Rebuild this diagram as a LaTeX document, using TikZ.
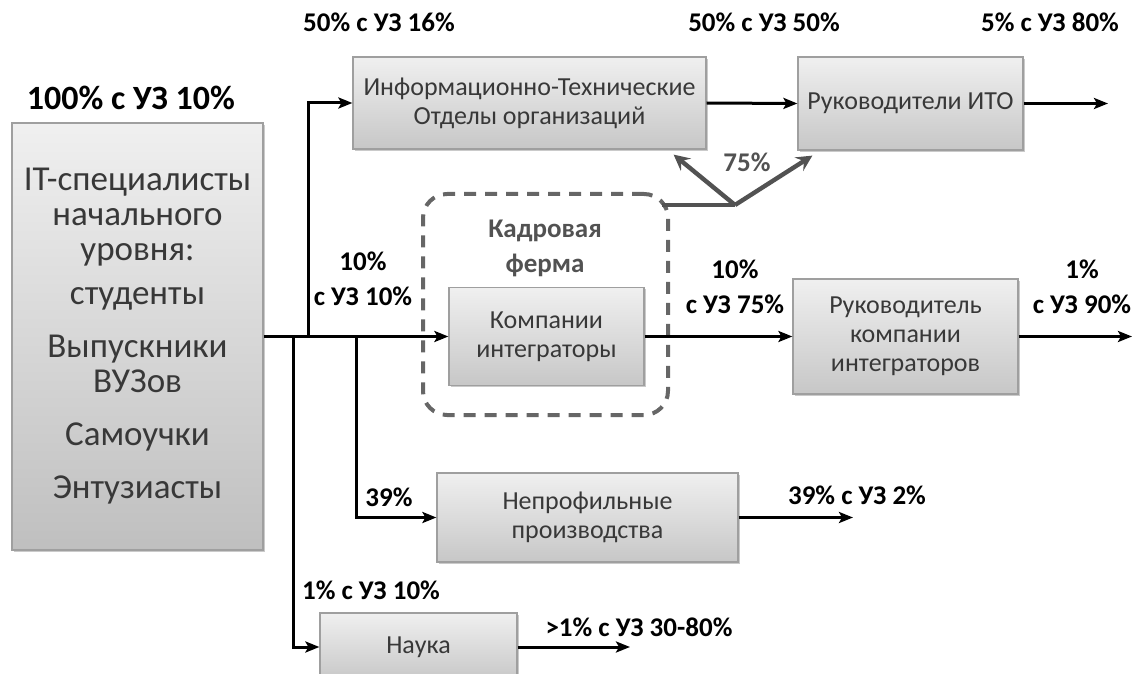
\documentclass[tikz,border=0pt]{standalone}
\usepackage{fontspec}
\setmainfont{Carlito}
\usetikzlibrary{arrows.meta, positioning, calc, shadows}

\begin{document}
\begin{tikzpicture}[
    x=0.5pt, y=-0.5pt,
    box/.style={rectangle, draw=gray!75, line width=0.6pt, top color=gray!12, bottom color=gray!44,
        text=black!78, align=center, font=\fontsize{13}{14.5}\selectfont,
        drop shadow={shadow xshift=0.9pt, shadow yshift=-0.9pt, fill=gray!70, opacity=0.6}},
    lbl/.style={font=\fontsize{13.5}{17.5}\selectfont\bfseries, align=center, inner sep=0pt},
    graylbl/.style={lbl, text=black!68},
    farm/.style={draw=black!60, line width=2pt, dash pattern=on 6pt off 4.5pt, rounded corners=12pt,
        minimum width=122.5pt, minimum height=110.5pt},
    arrow/.style={line width=1.5pt, -{Stealth[length=7pt, width=5.5pt, inset=1.5pt]}},
    grayline/.style={line width=2.2pt, draw=black!68},
    grayarrow/.style={grayline, -{Stealth[length=8pt, width=8pt, inset=3pt]}}
]
    \useasboundingbox (0,0) rectangle (1136,674);
    \clip (0,0) rectangle (1136,674);

    % Dashed frame
    \node[farm] (ferma) at (545.5,304.5) {};
    \node[graylbl] (fermalbl) at (545,248) {Кадровая\\ферма};

    % Boxes
    \node[box, minimum width=125.5pt, minimum height=213.5pt, bottom color=gray!50,
          font=\fontsize{17.5}{17.5}\selectfont] (src) at (137.5,336.5)
        {IT-специалисты\\начального\\уровня:\\[4.5pt]студенты\\[9pt]Выпускники\\ВУЗов\\[9pt]Самоучки\\[9pt]Энтузиасты};
    \node[box, minimum width=176.5pt, minimum height=46pt] (itdept) at (529.5,103)
        {Информационно-Технические\\Отделы организаций};
    \node[box, minimum width=112.5pt, minimum height=46.5pt] (itohead) at (910.5,103.5)
        {Руководители ИТО};
    \node[box, minimum width=97.5pt, minimum height=49pt] (integr) at (546.5,336.5)
        {Компании\\интеграторы};
    \node[box, minimum width=112.5pt, minimum height=57.5pt] (inthead) at (905.5,336.5)
        {Руководитель\\компании\\интеграторов};
    \node[box, minimum width=150.5pt, minimum height=44.5pt] (noncore) at (587.5,517.5)
        {Непрофильные\\производства};
    \node[box, minimum width=98.5pt, minimum height=34pt] (science) at (418.5,647)
        {Наука};

    % Labels
    \node[lbl, font=\fontsize{17}{18}\selectfont\bfseries] (l100) at (131,98) {100\% с УЗ 10\%};
    \node[lbl] (litdept) at (379,22) {50\% с УЗ 16\%};
    \node[lbl] (litohead) at (764,22) {50\% с УЗ 50\%};
    \node[lbl] (litoout) at (1050,22) {5\% с УЗ 80\%};
    \node[lbl] (lintegr) at (363,279) {10\%\\с УЗ 10\%};
    \node[lbl] (linthead) at (735,287) {10\%\\с УЗ 75\%};
    \node[lbl] (lintout) at (1082,287) {1\%\\с УЗ 90\%};
    \node[lbl] (lnoncore) at (389,497) {39\%};
    \node[lbl] (lnonout) at (857,495) {39\% с УЗ 2\%};
    \node[lbl] (lscience) at (371,590) {1\% с УЗ 10\%};
    \node[lbl] (lsciout) at (639,627) {>1\% с УЗ 30-80\%};
    \node[graylbl] (l75) at (747,162) {75\%};

    % Branch points and free ends
    \coordinate (bup) at (308,336.5);
    \coordinate (bsci) at (293,336.5);
    \coordinate (bnon) at (356,336.5);
    \coordinate (itoout) at (1108,103.5);
    \coordinate (intout) at (1132,336.5);
    \coordinate (nonout) at (853,517.5);
    \coordinate (sciout) at (630,647);
    \coordinate (fj) at (735,205);

    % Arrows
    \draw[arrow] (src.east) -- (integr.west);
    \draw[arrow] (bup) |- (itdept.west);
    \draw[arrow] (bsci) |- (science.west);
    \draw[arrow] (bnon) |- (noncore.west);
    \draw[arrow] (itdept.east) -- (itohead.west);
    \draw[arrow] (itohead.east) -- (itoout);
    \draw[arrow] (integr.east) -- (inthead.west);
    \draw[arrow] (inthead.east) -- (intout);
    \draw[arrow] (noncore.east) -- (nonout);
    \draw[arrow] (science.east) -- (sciout);

    % 75% split
    \draw[grayline] ($(ferma.north east |- fj)+(-8,0)$) -- (fj);
    \draw[grayarrow] (fj) -- ($(itdept.south east)+(-33,5)$);
    \draw[grayarrow] (fj) -- ($(itohead.south west)+(15,5)$);
\end{tikzpicture}
\end{document}
